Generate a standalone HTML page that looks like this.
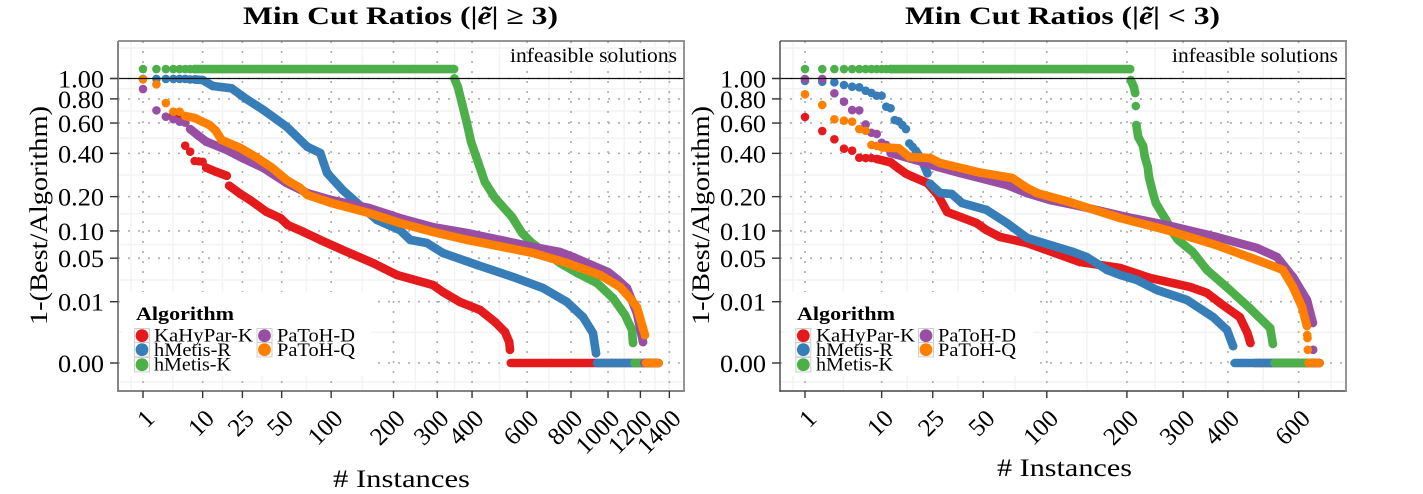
<!DOCTYPE html>
<html>
<head>
<meta charset="utf-8">
<title>Min Cut Ratios</title>
<style>
html,body{margin:0;padding:0;background:#fff;width:1423px;height:494px;overflow:hidden}
svg{display:block}
text{font-family:"Liberation Serif",serif;fill:#000}
</style>
</head>
<body>
<svg id="figure" xmlns="http://www.w3.org/2000/svg" width="1423" height="494" viewBox="0 0 1423 494">
  <g id="left-panel"></g>
  <g id="right-panel"></g>

  <text x="243" y="24" font-size="25" font-weight="bold" textLength="315" lengthAdjust="spacingAndGlyphs">Min Cut Ratios (|<tspan font-style="italic">ẽ</tspan>| ≥ 3)</text>
  <text x="905" y="24" font-size="25" font-weight="bold" textLength="315" lengthAdjust="spacingAndGlyphs">Min Cut Ratios (|<tspan font-style="italic">ẽ</tspan>| &lt; 3)</text>

  <text transform="translate(47,325) rotate(-90)" font-size="25" textLength="219" lengthAdjust="spacingAndGlyphs">1-(Best/Algorithm)</text>
  <text transform="translate(709,325) rotate(-90)" font-size="25" textLength="219" lengthAdjust="spacingAndGlyphs">1-(Best/Algorithm)</text>

  <text x="333" y="487" font-size="25" textLength="137" lengthAdjust="spacingAndGlyphs"># Instances</text>
  <text x="997" y="476" font-size="25" textLength="135" lengthAdjust="spacingAndGlyphs"># Instances</text>

  <text x="510" y="62" font-size="19.5" textLength="167" lengthAdjust="spacingAndGlyphs">infeasible solutions</text>
  <text x="1172" y="62" font-size="19.5" textLength="166" lengthAdjust="spacingAndGlyphs">infeasible solutions</text>
</svg>

<script>
// ---------- Shared axis data ----------
const yTickValues = [0, 0.01, 0.05, 0.10, 0.20, 0.40, 0.60, 0.80, 1.00];
const yTickLabels = ['0.00', '0.01', '0.05', '0.10', '0.20', '0.40', '0.60', '0.80', '1.00'];
const leftXTicks = [1, 10, 25, 50, 100, 200, 300, 400, 600, 800, 1000, 1200, 1400];
const rightXTicks = [1, 10, 25, 50, 100, 200, 300, 400, 600];
const algorithms = ['KaHyPar-K', 'hMetis-R', 'hMetis-K', 'PaToH-D', 'PaToH-Q'];
const algorithmColors = ['#e41a1c', '#377eb8', '#4daf4a', '#984ea3', '#ff7f00'];

// ---------- Left chart (|e| >= 3) ----------
const leftRedInstances = [4,5,6,7,8,9,10,11,14,18,19,24,29,39,49,55,69,87,115,162,207,289,315,363,426,477,513,529,532];
const leftRedValues = [.662,.65,.4456,.41,.358,.356,.354,.3235,.304,.285,.242,.21,.188,.15,.132,.114,.098,.081,.0627,.0434,.0296,.0206,.01554,.00986,.00646,.003,.0013,.0004,.0001];
const leftBlueInstances = [1,2,3,4,5,6,7,8,10,13,20,27,37,54,73,87,95,115,136,169,213,235,274,315,416,544,668,780,862,915,932];
const leftBlueValues = [.995,.995,.995,.995,.995,.995,.99,.99,.984,.923,.90,.799,.703,.573,.439,.402,.298,.225,.178,.127,.102,.081,.075,.0578,.0409,.0276,.0183,.00986,.0042,.00117,.00004];
const leftGreenInstances = [1,2,3,4,5,6,7,8,346,347,357,369,384,397,419,442,477,540,579,620,746,831,937,1029,1102,1146,1152];
const leftGreenValues = [1.103,1.103,1.103,1.103,1.103,1.103,1.103,1.103,1.103,1.0,.913,.763,.6,.469,.353,.257,.195,.135,.0954,.075,.0434,.0317,.0222,.0119,.0048,.00156,.00035];
const leftPurpleInstances = [1,2,3,4,5,6,7,9,11,18,25,37,54,73,100,155,213,289,384,495,625,746,810,1000,1059,1114,1177,1217];
const leftPurpleValues = [.893,.70,.649,.629,.61,.603,.556,.508,.471,.42,.374,.322,.253,.213,.188,.162,.132,.109,.0954,.081,.0678,.0594,.0517,.0327,.0248,.0183,.0054,.0004];
const leftOrangeInstances = [1,2,3,4,5,6,8,12,14,16,24,32,43,54,66,73,100,155,213,289,384,436,625,780,954,1071,1133,1177,1230];
const leftOrangeValues = [.99,.94,.763,.689,.689,.654,.639,.585,.544,.482,.4316,.381,.322,.266,.233,.206,.178,.1466,.119,.0977,.081,.075,.0578,.0434,.0296,.0191,.0119,.0076,.00095];
const leftZeroFrom = [535, 937, 1161, 1225, 1237];
const leftTotalInstances = 1323;

// ---------- Right chart (|e| < 3) ----------
const rightRedInstances = [1,2,3,4,5,6,7,8,9,12,14,16,18,23,27,31,46,52,61,82,136,190,238,314,351,381,430,450,458];
const rightRedValues = [.6465,.542,.486,.4274,.4155,.3758,.374,.374,.3687,.351,.32,.295,.2808,.253,.206,.1495,.119,.102,.0869,.075,.0447,.0372,.0267,.0191,.0149,.0094,.0042,.00117,.00035];
const rightBlueInstances = [1,2,3,4,5,6,7,8,9,10,11,12,13,14,15,16,17,18,19,21,23,24,28,33,38,52,66,82,128,144,171,190,216,250,308,365,398,413];
const rightBlueValues = [.974,.967,.96,.933,.916,.91,.877,.855,.829,.829,.731,.718,.623,.613,.585,.556,.46,.439,.4155,.363,.2965,.25,.213,.21,.178,.156,.119,.0848,.0594,.0517,.0349,.0296,.0248,.0169,.01086,.0042,.00156,.00021];
const rightGreenInstances = [1,2,3,4,5,6,7,8,9,10,11,12,205,206,211,213,214,215,218,226,229,234,236,243,248,261,267,280,290,320,351,405,456,513,521];
const rightGreenValues = [1.103,1.103,1.103,1.103,1.103,1.103,1.103,1.103,1.103,1.103,1.103,1.103,1.103,.984,.913,.855,.737,.585,.501,.444,.38,.327,.279,.213,.178,.141,.127,.0954,.081,.0594,.0349,.0169,.0072,.00186,.0003];
const rightPurpleInstances = [1,2,3,4,5,6,7,8,9,10,11,12,19,27,37,66,82,103,140,200,268,373,476,533,582,627,647,648];
const rightPurpleValues = [.995,.995,.852,.775,.703,.70,.59,.53,.522,.464,.45,.402,.363,.327,.298,.245,.213,.188,.165,.135,.114,.0869,.066,.0517,.0276,.01086,.0028,.0001];
const rightOrangeInstances = [1,2,3,4,5,6,7,8,9,10,14,17,24,28,48,70,82,91,124,190,268,373,476,513,551,582,611,627,628,629,630];
const rightOrangeValues = [.8425,.746,.6285,.618,.61,.556,.544,.45,.444,.436,.43,.38,.374,.347,.3,.275,.233,.213,.181,.132,.102,.071,.0474,.0409,.0349,.0191,.0076,.0022,.00095,.00067,.0001];
const rightZeroFrom = [470, 417, 526, 640, 632];
const rightTotalInstances = 670;

// ---------- Axis functions ----------
const NS = 'http://www.w3.org/2000/svg';
function makeXScale(origin, unit) {
  return function (n) { return origin + unit * (Math.cbrt(n) - 1); };
}
function yScale(v) { return 363 - 284.5 * Math.cbrt(v); }

function node(parent, tag, attrs) {
  const el = document.createElementNS(NS, tag);
  for (const k in attrs) el.setAttribute(k, attrs[k]);
  parent.appendChild(el);
  return el;
}

function drawPanel(cfg) {
  const g = document.getElementById(cfg.id);
  const x = makeXScale(cfg.origin, cfg.unit);
  const L = cfg.left, R = cfg.left + 566, T = 41, B = 391;

  // minor grid
  const xPix = cfg.xTicks.map(x);
  const yPix = yTickValues.map(yScale);
  const minorX = [xPix[0] - 12, R - 15];
  for (let i = 0; i + 1 < xPix.length; i++) minorX.push((xPix[i] + xPix[i + 1]) / 2);
  const minorY = [382, 48];
  for (let i = 0; i + 1 < yPix.length; i++) minorY.push((yPix[i] + yPix[i + 1]) / 2);
  minorX.forEach(function (px) {
    const line = node(g, 'line', {x1: px, x2: px, y1: T, y2: B, stroke: '#f3f3f3', 'stroke-width': 1.5});
    
    
  });
  minorY.forEach(function (py) {
    const line = node(g, 'line', {x1: L, x2: R, y1: py, y2: py, stroke: '#f3f3f3', 'stroke-width': 1.5});
    
    
  });

  // major grid
  xPix.forEach(function (px) {
    const line = node(g, 'line', {x1: px, x2: px, y1: T, y2: B, stroke: '#acacac', 'stroke-width': 1.6, 'stroke-dasharray': '2 8'});
    
    
  });
  yPix.forEach(function (py) {
    const line = node(g, 'line', {x1: L, x2: R, y1: py, y2: py, stroke: '#acacac', 'stroke-width': 1.6, 'stroke-dasharray': '2 8'});
    
    
  });

  // series
  cfg.series.forEach(function (s, si) {
    const group = node(g, 'g', {});
    
    
    const color = algorithmColors[si];

    const zero = node(group, 'line', {
      x1: x(cfg.zeroFrom[si]), x2: x(cfg.total), y1: yScale(0), y2: yScale(0),
      stroke: color, 'stroke-width': 8.6, 'stroke-linecap': 'round'
    });
    
    

    let d = '';
    for (let i = 0; i + 1 < s.n.length; i++) {
      // neighbouring ranks stay separate dots; larger rank gaps are dense runs
      if (s.n[i + 1] - s.n[i] > 1) {
        d += 'M' + x(s.n[i]).toFixed(2) + ' ' + yScale(s.v[i]).toFixed(2) +
             'L' + x(s.n[i + 1]).toFixed(2) + ' ' + yScale(s.v[i + 1]).toFixed(2);
      }
    }
    const run = node(group, 'path', {d: d, fill: 'none', stroke: color, 'stroke-width': 8.6, 'stroke-linecap': 'round', 'stroke-linejoin': 'round'});
    
    

    for (let i = 0; i < s.n.length; i++) {
      const dot = node(group, 'circle', {cx: x(s.n[i]).toFixed(2), cy: yScale(s.v[i]).toFixed(2), r: 4.3, fill: color});
      
      
    }
  });

  // legend background
  const lg = node(g, 'g', {});
  
  
  const bg = node(lg, 'rect', {x: L + cfg.legendInset, y: 292, width: 249 - cfg.legendInset + 4, height: 84, fill: '#fff'});
  
  
  const lt = node(lg, 'text', {x: cfg.legendTitleX, y: 320, 'font-size': 19, 'font-weight': 'bold', textLength: 98, lengthAdjust: 'spacingAndGlyphs'});
  lt.textContent = 'Algorithm';
  
  

  const rows = [335.7, 349.7, 364.7, 335.7, 349.7];
  const baselines = [341.7, 356, 370.7, 341.7, 356];
  const widths = [99, 77, 77, 78, 78];
  algorithms.forEach(function (name, i) {
    const kx = i < 3 ? cfg.keyX1 : cfg.keyX2;
    const tx = i < 3 ? cfg.textX1 : cfg.textX2;
    const entry = node(lg, 'g', {});
    
    
    const box = node(entry, 'rect', {x: kx - 7.5, y: rows[i] - 7.2, width: 15, height: 14.4, fill: '#fff', stroke: '#cfcfcf', 'stroke-width': 1});
    
    
    const dot = node(entry, 'circle', {cx: kx, cy: rows[i], r: 6.4, fill: algorithmColors[i]});
    
    
    const label = node(entry, 'text', {x: tx, y: baselines[i], 'font-size': 19, textLength: widths[i], lengthAdjust: 'spacingAndGlyphs'});
    label.textContent = name;
    
    
  });

  // reference line at 1.00 (extends into the tick)
  const ref = node(g, 'line', {x1: L - 8, x2: R, y1: yScale(1), y2: yScale(1), stroke: '#111', 'stroke-width': 1.3});
  
  

  // panel border
  const sides = [
    {n: 'panel-border-top', a: [L, T, R + 1, T], c: cfg.topColor, w: 1.3},
    {n: 'panel-border-left', a: [L, T, L, B + 1], c: cfg.leftColor, w: cfg.leftWidth},
    {n: 'panel-border-bottom', a: [L, B, R + 1, B], c: cfg.leftColor, w: cfg.leftWidth},
    {n: 'panel-border-right', a: [R, T, R, B + 1], c: '#8a8a8a', w: 1.8}
  ];
  sides.forEach(function (s) {
    const line = node(g, 'line', {x1: s.a[0], y1: s.a[1], x2: s.a[2], y2: s.a[3], stroke: s.c, 'stroke-width': s.w});
    
    
  });

  // y axis
  yTickValues.forEach(function (v, i) {
    const py = yScale(v);
    const tick = node(g, 'line', {x1: L - 8, x2: L, y1: py, y2: py, stroke: '#333', 'stroke-width': 1.4});
    
    
    const label = node(g, 'text', {x: L - 14, y: py + 9, 'font-size': 25, 'text-anchor': 'end', textLength: 46, lengthAdjust: 'spacingAndGlyphs'});
    label.textContent = yTickLabels[i];
    
    
  });

  // x axis
  cfg.xTicks.forEach(function (n) {
    const px = x(n);
    const tick = node(g, 'line', {x1: px, x2: px, y1: B, y2: B + 7, stroke: '#333', 'stroke-width': 1.4});
    
    
    const label = node(g, 'text', {'font-size': 25, 'text-anchor': 'end', transform: 'translate(' + (px + 13) + ',420) rotate(-45)'});
    label.textContent = String(n);
    
    
  });
}

drawPanel({
  id: 'left-panel', origin: 143, unit: 51.67, left: 118, xTicks: leftXTicks,
  zeroFrom: leftZeroFrom, total: leftTotalInstances, legendInset: 4,
  legendTitleX: 136, keyX1: 142, keyX2: 264.5, textX1: 154, textX2: 277,
  topColor: '#555', leftColor: '#858585', leftWidth: 2,
  series: [
    {n: leftRedInstances, v: leftRedValues},
    {n: leftBlueInstances, v: leftBlueValues},
    {n: leftGreenInstances, v: leftGreenValues},
    {n: leftPurpleInstances, v: leftPurpleValues},
    {n: leftOrangeInstances, v: leftOrangeValues}
  ]
});
drawPanel({
  id: 'right-panel', origin: 805, unit: 66.4, left: 780, xTicks: rightXTicks,
  zeroFrom: rightZeroFrom, total: rightTotalInstances, legendInset: 4,
  legendTitleX: 797, keyX1: 803.3, keyX2: 926, textX1: 816, textX2: 938,
  topColor: '#444', leftColor: '#444', leftWidth: 1.4,
  series: [
    {n: rightRedInstances, v: rightRedValues},
    {n: rightBlueInstances, v: rightBlueValues},
    {n: rightGreenInstances, v: rightGreenValues},
    {n: rightPurpleInstances, v: rightPurpleValues},
    {n: rightOrangeInstances, v: rightOrangeValues}
  ]
});
</script>
</body>
</html>
